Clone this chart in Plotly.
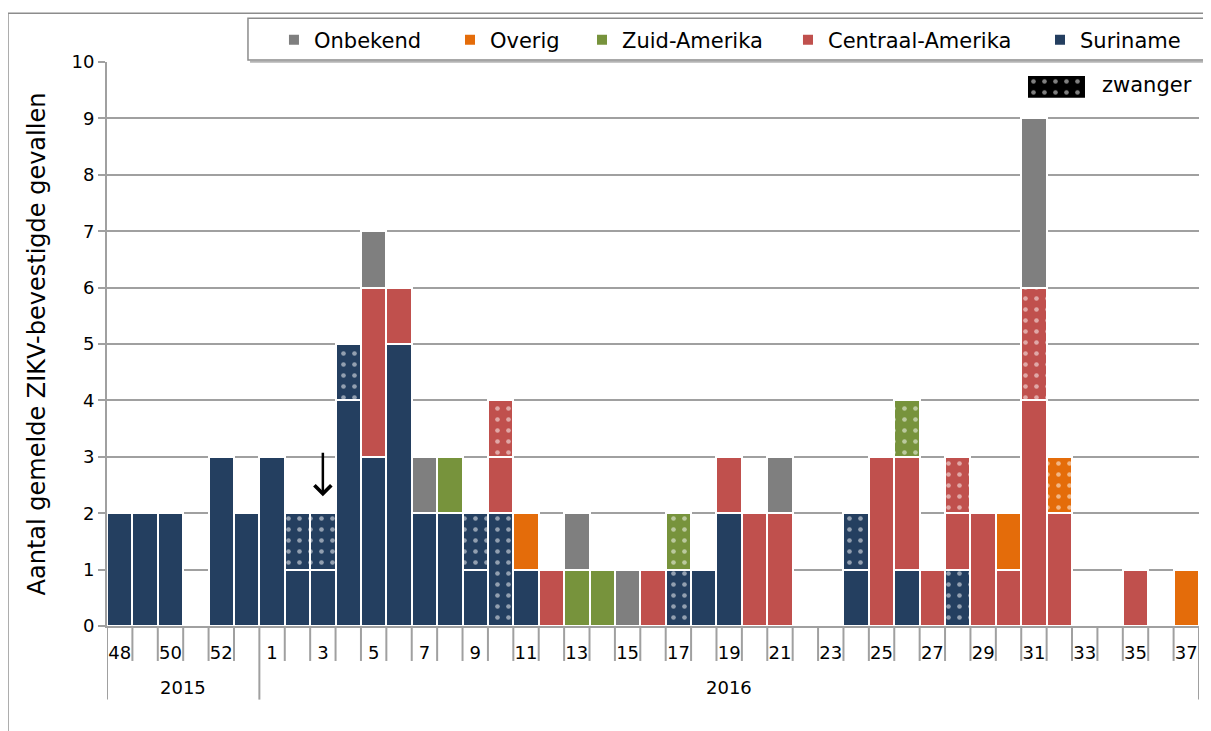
import plotly.graph_objects as go

# Week labels (2015 had 53 ISO weeks)
years = ["2015"] * 6 + ["2016"] * 37
weeks = [48, 49, 50, 51, 52, 53] + list(range(1, 38))

# Cases per week; "_zw" = pregnant women (hatched segments)
#             2015              2016 wk1-10                    wk11-20                        wk21-30                        wk31-37
suriname    = [2, 2, 2, 0, 3, 2,  3, 1, 1, 4, 3, 5, 2, 2, 1, 0,  1, 0, 0, 0, 0, 0, 0, 1, 2, 0,  0, 0, 0, 1, 0, 1, 0, 0, 0, 0,  0, 0, 0, 0, 0, 0, 0]
suriname_zw = [0, 0, 0, 0, 0, 0,  0, 1, 1, 1, 0, 0, 0, 0, 1, 2,  0, 0, 0, 0, 0, 0, 1, 0, 0, 0,  0, 0, 0, 1, 0, 0, 0, 1, 0, 0,  0, 0, 0, 0, 0, 0, 0]
centraal    = [0, 0, 0, 0, 0, 0,  0, 0, 0, 0, 3, 1, 0, 0, 0, 1,  0, 1, 0, 0, 0, 1, 0, 0, 1, 2,  2, 0, 0, 0, 3, 2, 1, 1, 2, 1,  4, 2, 0, 0, 1, 0, 0]
centraal_zw = [0, 0, 0, 0, 0, 0,  0, 0, 0, 0, 0, 0, 0, 0, 0, 1,  0, 0, 0, 0, 0, 0, 0, 0, 0, 0,  0, 0, 0, 0, 0, 0, 0, 1, 0, 0,  2, 0, 0, 0, 0, 0, 0]
zuid        = [0, 0, 0, 0, 0, 0,  0, 0, 0, 0, 0, 0, 0, 1, 0, 0,  0, 0, 1, 1, 0, 0, 0, 0, 0, 0,  0, 0, 0, 0, 0, 0, 0, 0, 0, 0,  0, 0, 0, 0, 0, 0, 0]
zuid_zw     = [0, 0, 0, 0, 0, 0,  0, 0, 0, 0, 0, 0, 0, 0, 0, 0,  0, 0, 0, 0, 0, 0, 1, 0, 0, 0,  0, 0, 0, 0, 0, 1, 0, 0, 0, 0,  0, 0, 0, 0, 0, 0, 0]
overig      = [0, 0, 0, 0, 0, 0,  0, 0, 0, 0, 0, 0, 0, 0, 0, 0,  1, 0, 0, 0, 0, 0, 0, 0, 0, 0,  0, 0, 0, 0, 0, 0, 0, 0, 0, 1,  0, 0, 0, 0, 0, 0, 1]
overig_zw   = [0, 0, 0, 0, 0, 0,  0, 0, 0, 0, 0, 0, 0, 0, 0, 0,  0, 0, 0, 0, 0, 0, 0, 0, 0, 0,  0, 0, 0, 0, 0, 0, 0, 0, 0, 0,  0, 1, 0, 0, 0, 0, 0]
onbekend    = [0, 0, 0, 0, 0, 0,  0, 0, 0, 0, 1, 0, 1, 0, 0, 0,  0, 0, 1, 0, 1, 0, 0, 0, 0, 0,  1, 0, 0, 0, 0, 0, 0, 0, 0, 0,  3, 0, 0, 0, 0, 0, 0]

pregnant_key = [1]

FONT = "DejaVu Sans"
GRID = "#a0a0a0"
COLORS = {
    "Suriname": "#243f60",
    "Centraal-Amerika": "#c0504d",
    "Zuid-Amerika": "#77933c",
    "Overig": "#e46c0a",
    "Onbekend": "#7f7f7f",
}
PATTERN = dict(shape=".", fgcolor="white", size=11, solidity=0.14)

# stacking order bottom -> top: (name, values, pregnant, legend id, legend x)
series = [
    ("Suriname", suriname, False, "legend5", 0.8544),
    ("Suriname", suriname_zw, True, None, None),
    ("Centraal-Amerika", centraal, False, "legend4", 0.6236),
    ("Centraal-Amerika", centraal_zw, True, None, None),
    ("Zuid-Amerika", zuid, False, "legend3", 0.4350),
    ("Zuid-Amerika", zuid_zw, True, None, None),
    ("Overig", overig, False, "legend2", 0.3141),
    ("Overig", overig_zw, True, None, None),
    ("Onbekend", onbekend, False, "legend", 0.1529),
]

x = list(range(len(weeks)))

fig = go.Figure()

legends = {}
for name, values, pregnant, legend_id, legend_x in series:
    color = COLORS[name]
    marker = dict(color=color, line=dict(color="white", width=2))
    if pregnant:
        marker["pattern"] = dict(PATTERN, bgcolor=color)
    fig.add_trace(
        go.Bar(
            x=x,
            y=[v if v else None for v in values],
            name=name,
            marker=marker,
            showlegend=not pregnant,
            legend=legend_id if legend_id else "legend",
        )
    )
    if legend_id:
        legends[legend_id] = dict(
            x=legend_x,
            y=1.0388,
            xanchor="left",
            yanchor="middle",
            orientation="h",
            bgcolor="rgba(0,0,0,0)",
            font=dict(family=FONT, size=21, color="black"),
        )

# key for the hatched "zwanger" segments
fig.add_trace(
    go.Bar(
        x=[0],
        y=pregnant_key,
        width=1,
        xaxis="x2",
        yaxis="y2",
        showlegend=False,
        hoverinfo="skip",
        marker=dict(color="black", line=dict(width=0), pattern=dict(PATTERN, bgcolor="black")),
    )
)

# separators under the axis
shapes = []
year_breaks = [0, 6, len(weeks)]
for k in range(len(weeks) + 1):
    depth = -0.1305 if k in year_breaks else -0.062
    shapes.append(
        dict(type="line", xref="x", yref="paper", x0=k - 0.5, x1=k - 0.5, y0=0, y1=depth,
             line=dict(color=GRID, width=2))
    )

# outer frame, legend box and its shadow
shapes.append(
    dict(type="rect", xref="paper", yref="paper", x0=-0.0907, x1=1.05, y0=-0.3, y1=1.0864,
         line=dict(color="#8c8c8c", width=1.5), layer="below")
)
shapes.append(
    dict(type="line", xref="paper", yref="paper", x0=0.1310, x1=1.05, y0=1.0005, y1=1.0005,
         line=dict(color="#b4b4b4", width=2), layer="below")
)
shapes.append(
    dict(type="rect", xref="paper", yref="paper", x0=0.1291, x1=1.05, y0=1.0035, y1=1.0776,
         line=dict(color="#8c8c8c", width=1.5), fillcolor="white", layer="below")
)

annotations = [
    dict(x=2.5, y=-0.109, xref="x", yref="paper", text="2015", showarrow=False,
         yanchor="middle", font=dict(family=FONT, size=18, color="black")),
    dict(x=24, y=-0.109, xref="x", yref="paper", text="2016", showarrow=False,
         yanchor="middle", font=dict(family=FONT, size=18, color="black")),
    dict(x=0.9093, y=0.9594, xref="paper", yref="paper", text="zwanger", showarrow=False,
         xanchor="left", yanchor="middle", font=dict(family=FONT, size=21, color="black")),
    # arrow above week 3
    dict(x=8, y=2.3, ax=8, ay=3.1, xref="x", yref="y", axref="x", ayref="y", text="",
         showarrow=True, arrowhead=4, arrowsize=1.3, arrowwidth=2.5, arrowcolor="black"),
]

tick_idx = [i for i in x if i % 2 == 0]

# page body has an 8px margin: figure is offset so the plot lands where the original sits
fig.update_layout(
    width=1203,
    height=723,
    margin=dict(l=99, r=12, t=51, b=105),
    barmode="stack",
    bargap=0,
    paper_bgcolor="white",
    plot_bgcolor="white",
    font=dict(family=FONT, size=18, color="black"),
    shapes=shapes,
    annotations=annotations,
    xaxis=dict(
        range=[-0.5, len(weeks) - 0.5],
        tickvals=tick_idx,
        ticktext=[str(weeks[i]) for i in tick_idx],
        ticks="",
        ticklabelstandoff=9,
        showgrid=False,
        showline=True,
        linecolor=GRID,
        linewidth=2,
        zeroline=False,
        automargin=False,
    ),
    yaxis=dict(
        range=[0, 10],
        dtick=1,
        showgrid=True,
        gridcolor=GRID,
        gridwidth=2,
        showline=True,
        linecolor=GRID,
        linewidth=2,
        ticks="outside",
        ticklen=7,
        tickcolor=GRID,
        tickwidth=2,
        zeroline=False,
        automargin=False,
        title=dict(text="Aantal gemelde ZIKV-bevestigde gevallen", standoff=19,
                   font=dict(family=FONT, size=24, color="black")),
    ),
    xaxis2=dict(domain=[0.8434, 0.8956], anchor="y2", range=[-0.5, 0.5], visible=False),
    yaxis2=dict(domain=[0.9365, 0.9753], anchor="x2", range=[0, 1], visible=False),
    **legends,
)

fig.write_html("out.html")
